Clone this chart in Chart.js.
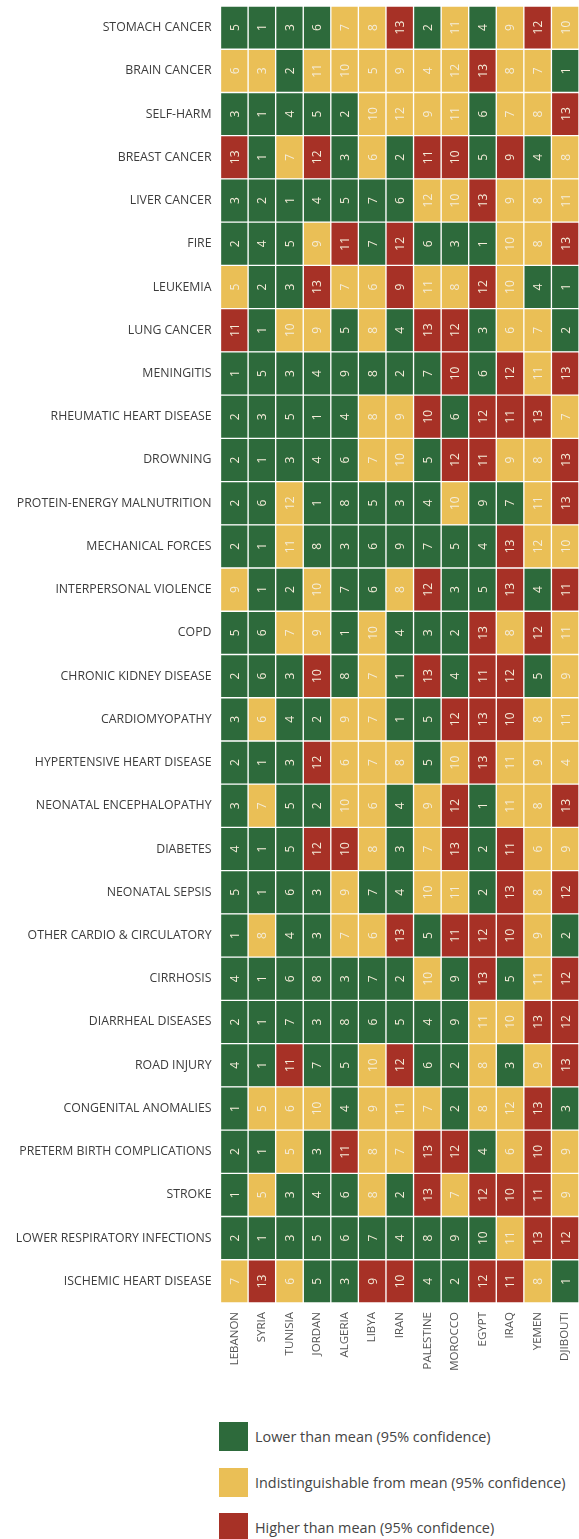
<!DOCTYPE html>
<html>
<head>
<meta charset="utf-8">
<script src="https://cdn.jsdelivr.net/npm/chart.js@4/dist/chart.umd.min.js"></script>
<style>
  html, body { margin:0; padding:0; background:#fff; }
  #wrap { position:relative; width:579px; height:1539px; overflow:hidden; font-family:"Open Sans", sans-serif; }
  #box { position:absolute; left:0; top:0; width:579px; height:1400px; }
  .lg { position:absolute; left:219px; height:29px; display:flex; align-items:center; }
  .lg span.sw { width:29px; height:29px; display:inline-block; }
  .lg span.tx { margin-left:7px; font-size:14.4px; color:#444; white-space:nowrap; }
</style>
</head>
<body>
<div id="wrap">
  <div id="box"><canvas id="heat"></canvas></div>
  <div id="legend"></div>
</div>
<script>
// heatmap — rank by cause of death & country

const COUNTRIES = ['LEBANON','SYRIA','TUNISIA','JORDAN','ALGERIA','LIBYA','IRAN','PALESTINE','MOROCCO','EGYPT','IRAQ','YEMEN','DJIBOUTI'];

const CAUSES = [
  'STOMACH CANCER','BRAIN CANCER','SELF-HARM','BREAST CANCER','LIVER CANCER','FIRE','LEUKEMIA',
  'LUNG CANCER','MENINGITIS','RHEUMATIC HEART DISEASE','DROWNING','PROTEIN-ENERGY MALNUTRITION',
  'MECHANICAL FORCES','INTERPERSONAL VIOLENCE','COPD','CHRONIC KIDNEY DISEASE','CARDIOMYOPATHY',
  'HYPERTENSIVE HEART DISEASE','NEONATAL ENCEPHALOPATHY','DIABETES','NEONATAL SEPSIS',
  'OTHER CARDIO & CIRCULATORY','CIRRHOSIS','DIARRHEAL DISEASES','ROAD INJURY','CONGENITAL ANOMALIES',
  'PRETERM BIRTH COMPLICATIONS','STROKE','LOWER RESPIRATORY INFECTIONS','ISCHEMIC HEART DISEASE'
];

// rank per cause (row), one number per country
const RANKS = [
  [5,1,3,6,7,8,13,2,11,4,9,12,10],
  [6,3,2,11,10,5,9,4,12,13,8,7,1],
  [3,1,4,5,2,10,12,9,11,6,7,8,13],
  [13,1,7,12,3,6,2,11,10,5,9,4,8],
  [3,2,1,4,5,7,6,12,10,13,9,8,11],
  [2,4,5,9,11,7,12,6,3,1,10,8,13],
  [5,2,3,13,7,6,9,11,8,12,10,4,1],
  [11,1,10,9,5,8,4,13,12,3,6,7,2],
  [1,5,3,4,9,8,2,7,10,6,12,11,13],
  [2,3,5,1,4,8,9,10,6,12,11,13,7],
  [2,1,3,4,6,7,10,5,12,11,9,8,13],
  [2,6,12,1,8,5,3,4,10,9,7,11,13],
  [2,1,11,8,3,6,9,7,5,4,13,12,10],
  [9,1,2,10,7,6,8,12,3,5,13,4,11],
  [5,6,7,9,1,10,4,3,2,13,8,12,11],
  [2,6,3,10,8,7,1,13,4,11,12,5,9],
  [3,6,4,2,9,7,1,5,12,13,10,8,11],
  [2,1,3,12,6,7,8,5,10,13,11,9,4],
  [3,7,5,2,10,6,4,9,12,1,11,8,13],
  [4,1,5,12,10,8,3,7,13,2,11,6,9],
  [5,1,6,3,9,7,4,10,11,2,13,8,12],
  [1,8,4,3,7,6,13,5,11,12,10,9,2],
  [4,1,6,8,3,7,2,10,9,13,5,11,12],
  [2,1,7,3,8,6,5,4,9,11,10,13,12],
  [4,1,11,7,5,10,12,6,2,8,3,9,13],
  [1,5,6,10,4,9,11,7,2,8,12,13,3],
  [2,1,5,3,11,8,7,13,12,4,6,10,9],
  [1,5,3,4,6,8,2,13,7,12,10,11,9],
  [2,1,3,5,6,7,4,8,9,10,11,13,12],
  [7,13,6,5,3,9,10,4,2,12,11,8,1]
];

// G = lower, Y = indistinguishable, R = higher than mean
const STATUS = [
  'GGGGYYRGYGYRY','YYGYYYYYYRYYG','GGGGGYYYYGYYR','RGYRGYGRRGRGY','GGGGGGGYYRYYY',
  'GGGYRGRGGGYYR','YGGRYYRYYRYGG','RGYYGYGRRGYYG','GGGGGGGGRGRYR','GGGGGYYRGRRRY',
  'GGGGGYYGRRYYR','GGYGGGGGYGGYR','GGYGGGGGGGRYY','YGGYGGYRGGRGR','GGYYGYGGGRYRY',
  'GGGRGYGRGRRGY','GYGGYYGGRRRYY','GGGRYYYGYRYYY','GYGGYYGYRGYYR','GGGRRYGYRGRYY',
  'GGGGYGGYYGRYR','GYGGYYRGRRRYG','GGGGGGGYGRGYR','GGGGGGGGGYYRR','GGRGGYRGGYGYR',
  'GYYYGYYYGYYRG','GGYGRYYRRGYRY','GYGGGYGRYRRRY','GGGGGGGGGGYRR','YRYGGRRGGRRYG'
];

const STATUS_KEYS = ['G','Y','R'];
const STATUS_COLORS = { G:'#2d6a3b', Y:'#eabf56', R:'#a73126' };
const STATUS_LABELS = [
  'Lower than mean (95% confidence)',
  'Indistinguishable from mean (95% confidence)',
  'Higher than mean (95% confidence)'
];

const FONT = '"Open Sans", sans-serif';

// one dataset per country column, floating bar [col, col+1] per cause row
const datasets = COUNTRIES.map((c, ci) => ({
  label: c,
  data: CAUSES.map(() => [ci, ci+1]),
  ranks: RANKS.map(r => r[ci]),
  backgroundColor: STATUS.map(s => STATUS_COLORS[s[ci]]),
  borderColor: '#ffffff',
  borderWidth: 1,
  borderSkipped: false,
  grouped: false,
  barPercentage: 1,
  categoryPercentage: 1
}));

const cellText = {
  id: 'cellText',
  afterDatasetsDraw(chart){
    const ctx = chart.ctx;
    ctx.save();
    ctx.font = '12px ' + FONT;
    ctx.fillStyle = '#f4ecd9';
    ctx.textAlign = 'center';
    ctx.textBaseline = 'middle';
    chart.data.datasets.forEach((ds, di) => {
      const meta = chart.getDatasetMeta(di);
      meta.data.forEach((el, i) => {
        const cx = (el.x + el.base) / 2;
        ctx.save();
        ctx.translate(cx, el.y);
        ctx.rotate(-Math.PI/2);
        ctx.fillText(String(ds.ranks[i]), 0, 1);
        ctx.restore();
      });
    });
    ctx.restore();
  }
};

new Chart(document.getElementById('heat'), {
  type: 'bar',
  data: { labels: CAUSES, datasets },
  options: {
    indexAxis: 'y',
    responsive: true,
    maintainAspectRatio: false,
    animation: false,
    layout: { padding: { top: 6, right: 0, left: 0, bottom: 0 } },
    plugins: { legend: { display:false }, tooltip: { enabled:false } },
    scales: {
      x: {
        type: 'linear', position: 'bottom', min: 0, max: COUNTRIES.length,
        grid: { display:false, drawTicks:false }, border: { display:false },
        afterBuildTicks(scale){ scale.ticks = COUNTRIES.map((_, i) => ({ value: i + 0.5 })); },
        afterFit(scale){ scale.height = 97; scale.paddingLeft = 0; scale.paddingRight = 0; },
        ticks: {
          autoSkip: false, minRotation: 90, maxRotation: 90, padding: 9,
          color: '#555', font: { family: FONT, size: 11.5 },
          callback: (v, i) => COUNTRIES[i]
        }
      },
      y: {
        type: 'category',
        grid: { display:false, drawTicks:false }, border: { display:false },
        afterFit(scale){ scale.width = 220.5; scale.paddingTop = 0; scale.paddingBottom = 0; },
        ticks: { autoSkip:false, padding: 9, color: '#3c3c3c', font: { family: FONT, size: 12.3 } }
      }
    }
  },
  plugins: [cellText]
});

// legend
const lgTops = [1422, 1468, 1513];
const lg = document.getElementById('legend');
STATUS_KEYS.forEach((k, i) => {
  const d = document.createElement('div');
  d.className = 'lg';
  d.style.top = lgTops[i] + 'px';
  d.innerHTML = '<span class="sw" style="background:' + STATUS_COLORS[k] + '"></span><span class="tx">' + STATUS_LABELS[i] + '</span>';
  lg.appendChild(d);
});
</script>
</body>
</html>
